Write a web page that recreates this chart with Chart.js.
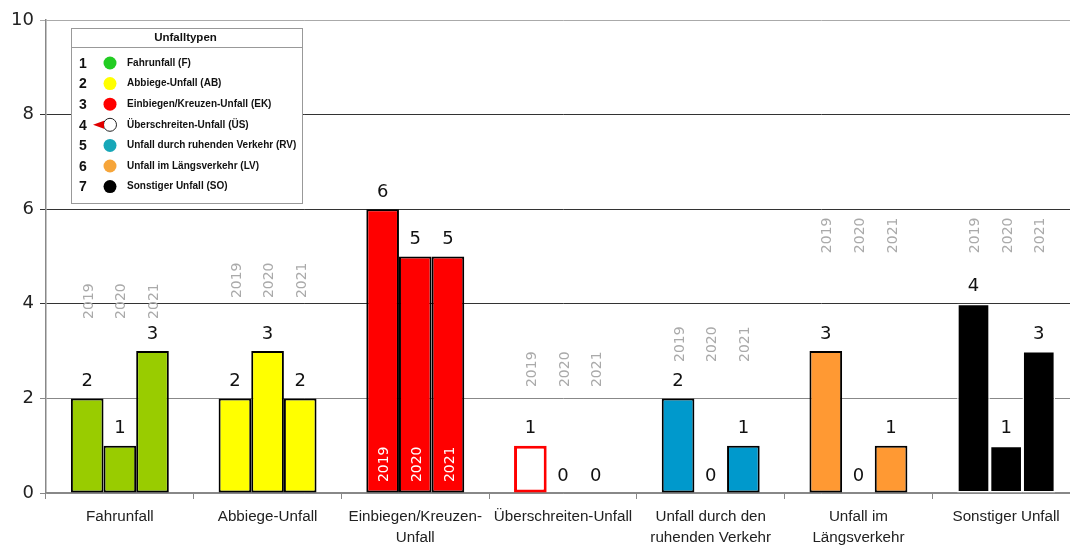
<!DOCTYPE html>
<html>
<head>
<meta charset="utf-8">
<script src="https://cdn.jsdelivr.net/npm/chart.js@4/dist/chart.umd.min.js"></script>
<style>
  html, body { margin: 0; padding: 0; background: #fff; overflow: hidden; }
  #wrap { width: 1070px; height: 547px; overflow: hidden; }
</style>
</head>
<body>
<div id="wrap"><canvas id="c" width="1085" height="547"></canvas></div>
<script>
// ---- Data ----
const categories = [
  ['Fahrunfall'],
  ['Abbiege-Unfall'],
  ['Einbiegen/Kreuzen-', 'Unfall'],
  ['Überschreiten-Unfall'],
  ['Unfall durch den', 'ruhenden Verkehr'],
  ['Unfall im', 'Längsverkehr'],
  ['Sonstiger Unfall']
];
const years = ['2019', '2020', '2021'];
const values2019 = [2, 2, 6, 1, 2, 3, 4];
const values2020 = [1, 3, 5, 0, 0, 0, 1];
const values2021 = [3, 2, 5, 0, 1, 1, 3];
const yTicks = [0, 2, 4, 6, 8, 10];

const legendNumbers = ['1', '2', '3', '4', '5', '6', '7'];
const legendLabels = [
  'Fahrunfall (F)',
  'Abbiege-Unfall (AB)',
  'Einbiegen/Kreuzen-Unfall (EK)',
  'Überschreiten-Unfall (ÜS)',
  'Unfall durch ruhenden Verkehr (RV)',
  'Unfall im Längsverkehr (LV)',
  'Sonstiger Unfall (SO)'
];

// ---- Styles ----
const barFill   = ['#99cc00', '#ffff00', '#ff0000', '#ffffff', '#0099cc', '#ff9933', '#000000'];
const barBorder = ['#000000', '#000000', '#000000', '#ff0000', '#000000', '#000000', '#ffffff'];
const barBorderW = [2, 2, 2, 3, 2, 2, 1.5];
const legendDot = ['#22cc22', '#ffff00', '#ff0000', '#ffffff', '#17a7b8', '#f6a53a', '#000000'];

// where the rotated year captions start (in axis units), per category
const yearLabelAt = [3.68, 4.12, 0.23, 2.24, 2.77, 5.07, 5.07];
const yearLabelColor = ['#aaaaaa', '#aaaaaa', '#ffffff', '#aaaaaa', '#aaaaaa', '#aaaaaa', '#aaaaaa'];

function makeSet(label, data) {
  return {
    label,
    data,
    backgroundColor: barFill,
    borderColor: barBorder,
    borderWidth: barBorderW,
    borderSkipped: false,
    categoryPercentage: 0.663,
    barPercentage: 1.0
  };
}

// ---- Labels plugin ----
const labelsPlugin = {
  id: 'labels',
  afterDatasetsDraw(chart) {
    const ctx = chart.ctx;
    const yScale = chart.scales.y;
    ctx.save();
    chart.data.datasets.forEach((ds, di) => {
      const meta = chart.getDatasetMeta(di);
      meta.data.forEach((bar, i) => {
        // value above bar
        ctx.fillStyle = '#111';
        ctx.font = '18px "DejaVu Sans"';
        ctx.textAlign = 'center';
        ctx.textBaseline = 'middle';
        ctx.fillText(String(ds.data[i]), bar.x, bar.y - 17);
        // rotated year caption
        const yy = yScale.getPixelForValue(yearLabelAt[i]);
        ctx.save();
        ctx.translate(bar.x + 2, yy);
        ctx.rotate(-Math.PI / 2);
        ctx.fillStyle = yearLabelColor[i];
        ctx.font = '14px "DejaVu Sans"';
        ctx.textAlign = 'left';
        ctx.textBaseline = 'middle';
        ctx.fillText(years[di], 0, 0);
        ctx.restore();
      });
    });
    ctx.restore();
  }
};

// ---- Legend box plugin ----
const legendBoxPlugin = {
  id: 'legendBox',
  afterDraw(chart) {
    const ctx = chart.ctx;
    const x0 = 71, y0 = 28, w = 231, h = 175;
    ctx.save();
    ctx.fillStyle = '#fff';
    ctx.fillRect(x0, y0, w, h);
    ctx.strokeStyle = '#999';
    ctx.lineWidth = 1;
    ctx.strokeRect(x0 + 0.5, y0 + 0.5, w, h);
    ctx.beginPath();
    ctx.moveTo(x0, 47.5);
    ctx.lineTo(x0 + w, 47.5);
    ctx.stroke();

    ctx.fillStyle = '#111';
    ctx.font = 'bold 11.5px "Liberation Sans"';
    ctx.textAlign = 'center';
    ctx.textBaseline = 'middle';
    ctx.fillText('Unfalltypen', x0 + w / 2 - 1, 38);

    legendLabels.forEach((lab, i) => {
      const cy = 63 + i * 20.6;
      ctx.fillStyle = '#111';
      ctx.font = 'bold 14px "Liberation Sans"';
      ctx.textAlign = 'center';
      ctx.fillText(legendNumbers[i], 83, cy + 1);

      ctx.beginPath();
      ctx.arc(110, cy, 6.5, 0, Math.PI * 2);
      ctx.fillStyle = legendDot[i];
      ctx.fill();
      if (legendDot[i] === '#ffffff') {
        ctx.strokeStyle = '#222';
        ctx.lineWidth = 1;
        ctx.stroke();
        ctx.beginPath();
        ctx.moveTo(93, cy);
        ctx.lineTo(104, cy - 4);
        ctx.lineTo(104, cy + 4);
        ctx.closePath();
        ctx.fillStyle = '#e00000';
        ctx.fill();
      }

      ctx.fillStyle = '#111';
      ctx.font = 'bold 10px "Liberation Sans"';
      ctx.textAlign = 'left';
      ctx.fillText(lab, 127, cy);
    });
    ctx.restore();
  }
};

new Chart(document.getElementById('c'), {
  type: 'bar',
  data: {
    labels: categories,
    datasets: [
      makeSet(years[0], values2019),
      makeSet(years[1], values2020),
      makeSet(years[2], values2021)
    ]
  },
  options: {
    responsive: false,
    animation: false,
    devicePixelRatio: 1,
    layout: { padding: { top: 20, right: 5, left: 0, bottom: 0 } },
    plugins: { legend: { display: false }, tooltip: { enabled: false } },
    scales: {
      x: {
        grid: {
          display: true,
          drawOnChartArea: false,
          drawTicks: true,
          tickLength: 6,
          color: '#888',
          offset: true
        },
        border: { display: true, color: '#888', width: 1.5 },
        ticks: {
          color: '#222',
          font: { family: '"Liberation Sans"', size: 15.2, lineHeight: 1.4 },
          padding: 7,
          maxRotation: 0,
          autoSkip: false
        },
        afterFit(scale) { scale.height = 54; }
      },
      y: {
        min: 0,
        max: 10,
        afterBuildTicks(scale) { scale.ticks = yTicks.map(v => ({ value: v })); },
        grid: {
          tickLength: 6,
          color: ctx => {
            const v = ctx.tick ? ctx.tick.value : 0;
            if (v === 10) return '#aaaaaa';
            if (v === 2 || v === 0) return '#888888';
            return '#333333';
          },
          lineWidth: 1
        },
        border: { display: true, color: '#888', width: 1.5 },
        ticks: {
          color: '#222',
          font: { family: '"DejaVu Sans"', size: 18 },
          padding: 6
        },
        afterFit(scale) { scale.width = 46; }
      }
    }
  },
  plugins: [labelsPlugin, legendBoxPlugin]
});
</script>
</body>
</html>
